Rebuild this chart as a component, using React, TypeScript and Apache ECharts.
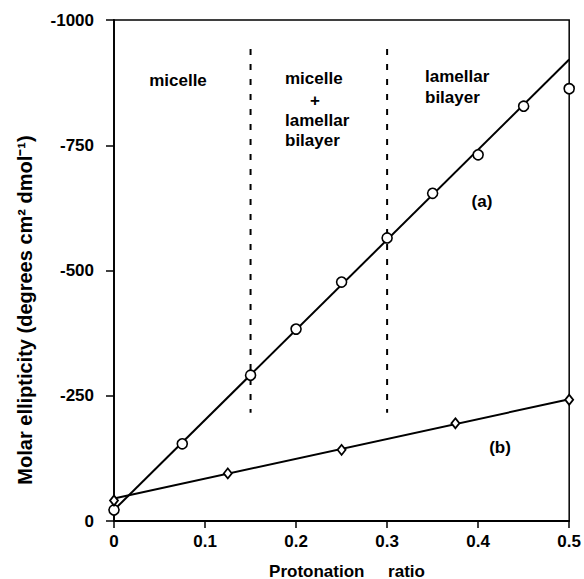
import React, { useEffect, useRef } from "react";
import * as echarts from "echarts";

// Series (a): circles
const xA = [0, 0.075, 0.15, 0.2, 0.25, 0.3, 0.35, 0.4, 0.45, 0.5];
const yA = [-22, -154, -291, -383, -477, -565, -654, -731, -828, -863];
// Series (b): diamonds
const xB = [0, 0.125, 0.25, 0.375, 0.5];
const yB = [-41, -95, -142, -195, -242];
// Fitted lines
const fitAX = [0, 0.5];
const fitAY = [-22, -921];
const fitBX = [0, 0.5];
const fitBY = [-45, -243];
// Phase boundaries (dashed)
const boundaryX = [0.15, 0.3];
const boundaryY = [-942, -216];

const yTicks = [-1000, -750, -500, -250, 0];
const xTicks = [0, 0.1, 0.2, 0.3, 0.4, 0.5];

const FONT = '"Liberation Sans", Arial, Helvetica, sans-serif';
const FS = 17;

export default function App() {
  const ref = useRef<HTMLDivElement>(null);
  useEffect(() => {
    if (!ref.current) return;
    const chart = echarts.init(ref.current, null, { renderer: "svg" });
    const txt = (x: number, y: number, text: string, align: string = "left", extra: any = {}) => ({
      type: "text",
      x,
      y,
      style: {
        text,
        fill: "#000",
        font: `bold ${FS}px ${FONT}`,
        textAlign: align,
        textVerticalAlign: "middle",
        ...extra,
      },
    });
    const option: any = {
      animation: false,
      backgroundColor: "#fff",
      grid: {
        left: 114,
        right: 12,
        top: 20,
        bottom: 58,
        show: true,
        borderColor: "#000",
        borderWidth: 1.5,
        backgroundColor: "transparent",
      },
      xAxis: {
        type: "value",
        min: xTicks[0],
        max: xTicks[xTicks.length - 1],
        interval: 0.1,
        axisLine: { show: true, onZero: false, lineStyle: { color: "#000", width: 1.8 } },
        axisTick: { show: true, length: 7, lineStyle: { color: "#000", width: 1.5 } },
        splitLine: { show: false },
        axisLabel: {
          margin: 12,
          color: "#000",
          fontWeight: "bold",
          fontSize: FS,
          fontFamily: FONT,
          formatter: (v: number) => String(+v.toFixed(1)),
        },
      },
      yAxis: {
        type: "value",
        min: yTicks[0],
        max: yTicks[yTicks.length - 1],
        interval: 250,
        inverse: true,
        axisLine: { show: true, onZero: false, lineStyle: { color: "#000", width: 1.8 } },
        axisTick: { show: true, length: 8, lineStyle: { color: "#000", width: 1.5 } },
        splitLine: { show: false },
        axisLabel: {
          margin: 20,
          color: "#000",
          fontWeight: "bold",
          fontSize: FS,
          fontFamily: FONT,
          formatter: (v: number) => String(v),
        },
      },
      series: [
        {
          type: "line",
          data: fitAX.map((x, i) => [x, fitAY[i]]),
          symbol: "none",
          lineStyle: { color: "#000", width: 2 },
          z: 2,
        },
        {
          type: "line",
          data: fitBX.map((x, i) => [x, fitBY[i]]),
          symbol: "none",
          lineStyle: { color: "#000", width: 2 },
          z: 2,
        },
        ...boundaryX.map((bx) => ({
          type: "line",
          data: boundaryY.map((y) => [bx, y]),
          symbol: "none",
          lineStyle: { color: "#000", width: 2, type: [6, 9] },
          z: 2,
        })),
        {
          type: "scatter",
          data: xA.map((x, i) => [x, yA[i]]),
          symbol: "circle",
          symbolSize: 10,
          itemStyle: { color: "#fff", borderColor: "#000", borderWidth: 1.6, opacity: 1 },
          z: 5,
        },
        {
          type: "scatter",
          data: xB.map((x, i) => [x, yB[i]]),
          symbol: "diamond",
          symbolSize: [8, 10],
          itemStyle: { color: "#fff", borderColor: "#000", borderWidth: 1.8, opacity: 1 },
          z: 5,
        },
      ],
      graphic: [
        {
          type: "text",
          x: 25,
          y: 310,
          rotation: Math.PI / 2,
          style: {
            text: "Molar ellipticity (degrees cm² dmol⁻¹)",
            fill: "#000",
            font: `bold 20px ${FONT}`,
            textAlign: "center",
            textVerticalAlign: "middle",
          },
        },
        txt(347, 571, "Protonation     ratio", "center"),
        txt(178, 80, "micelle", "center"),
        txt(285, 78, "micelle"),
        txt(315, 100, "+", "center"),
        txt(285, 120, "lamellar"),
        txt(285, 140, "bilayer"),
        txt(425, 76, "lamellar"),
        txt(425, 97, "bilayer"),
        txt(482, 201, "(a)", "center"),
        txt(500, 447, "(b)", "center"),
      ],
    };
    chart.setOption(option);
    return () => chart.dispose();
  }, []);
  return (
    <div
      ref={ref}
      style={{ position: "fixed", left: 0, top: 0, width: 584, height: 579 }}
    />
  );
}
